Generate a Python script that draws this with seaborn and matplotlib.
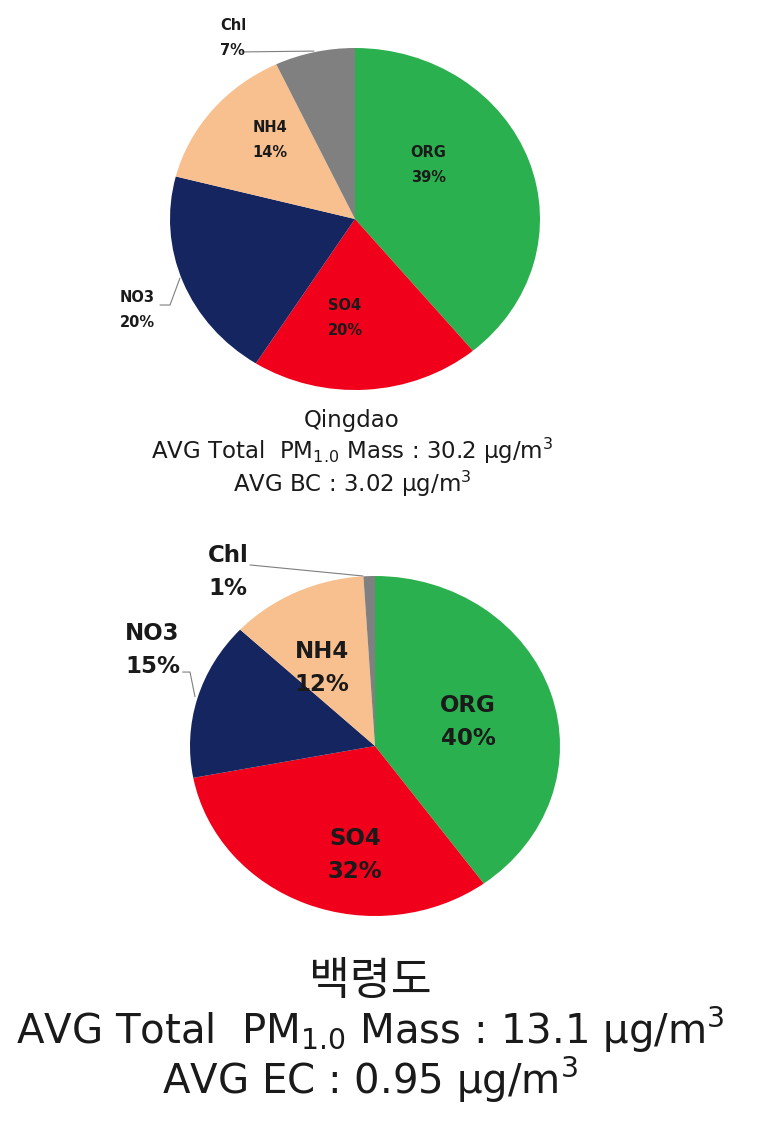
import matplotlib
matplotlib.use("Agg")
import matplotlib.pyplot as plt
import seaborn as sns

# ---------------- data ----------------
categories = ["ORG", "SO4", "NO3", "NH4", "Chl"]
qingdao_pct = [39, 20, 20, 14, 7]
baengnyeong_pct = [40, 32, 15, 12, 1]
colors = ["#2BB04F", "#F0001A", "#15255F", "#F8C08F", "#808080"]

top_lines = ["Qingdao",
             "AVG Total  PM$_{1.0}$ Mass : 30.2 μg/m$^3$",
             "AVG BC : 3.02 μg/m$^3$"]
bot_title = "백령도"
bot_lines = ["AVG Total  PM$_{1.0}$ Mass : 13.1 μg/m$^3$",
             "AVG EC : 0.95 μg/m$^3$"]

# label placement (in pie-axes units, -1..1 box)
top_label_pos = {"ORG": (0.395, 0.316, "center"), "SO4": (-0.054, -0.579, "center"),
                 "NO3": (-1.27, -0.532, "left"), "NH4": (-0.46, 0.46, "center"),
                 "Chl": (-0.73, 1.058, "left")}
bot_label_pos = {"ORG": (0.503, 0.141, "center"), "SO4": (-0.108, -0.641, "center"),
                 "NO3": (-1.351, 0.565, "left"), "NH4": (-0.286, 0.459, "center"),
                 "Chl": (-0.903, 1.024, "left")}
top_leaders = [[(-0.611, 0.977), (-0.222, 0.982)],
               [(-1.054, -0.503), (-1.0, -0.503), (-0.946, -0.345)]]
bot_leaders = [[(-0.676, 1.065), (-0.065, 1.0)],
               [(-1.04, 0.435), (-1.0, 0.435), (-0.973, 0.29)]]

# ---------------- style ----------------
sns.set_theme(style="white")
LFAM = ["DejaVu Sans", "Noto Sans CJK KR"]
TFAM = ["DejaVu Sans", "Noto Sans CJK KR"]
plt.rcParams["font.family"] = TFAM
plt.rcParams["mathtext.fontset"] = "dejavusans"

W, H = 761, 1145
fig = plt.figure(figsize=(W / 100, H / 100), dpi=100)
fig.patch.set_facecolor("white")


def draw_pie(box, values, label_pos, leaders, fsize, lsp):
    x0, y0, x1, y1 = box
    ax = fig.add_axes([x0 / W, 1 - y1 / H, (x1 - x0) / W, (y1 - y0) / H])
    ax.pie(values, colors=colors, startangle=90, counterclock=False,
           radius=1, wedgeprops=dict(linewidth=0))
    ax.set_aspect("auto")
    ax.set_xlim(-1, 1)
    ax.set_ylim(-1, 1)
    ax.axis("off")
    for cat, v in zip(categories, values):
        x, y, ha = label_pos[cat]
        ax.text(x, y, f"{cat}\n{v}%", ha=ha, va="center", fontsize=fsize,
                fontweight="bold", color="#1a1a1a", linespacing=lsp,
                clip_on=False, family=LFAM)
    for pts in leaders:
        xs, ys = zip(*pts)
        ax.plot(xs, ys, color="#7f7f7f", lw=0.8, clip_on=False)
    return ax


draw_pie((170, 48, 540, 390), qingdao_pct, top_label_pos, top_leaders, 10.5, 1.85)
draw_pie((190, 576, 560, 916), baengnyeong_pct, bot_label_pos, bot_leaders, 16.5, 1.6)

fig.text(352 / W, 1 - 454 / H, "\n".join(top_lines), ha="center", va="center",
         fontsize=16.5, color="#1a1a1a", family=TFAM, linespacing=1.15)
fig.text(370 / W, 1 - 981 / H, bot_title, ha="center", va="center",
         fontsize=32, color="#1a1a1a", family=TFAM)
fig.text(370 / W, 1 - 1055 / H, "\n".join(bot_lines), ha="center", va="center",
         fontsize=29, color="#1a1a1a", family=TFAM, linespacing=0.98)

fig.savefig("out.png", dpi=100, facecolor="white")
